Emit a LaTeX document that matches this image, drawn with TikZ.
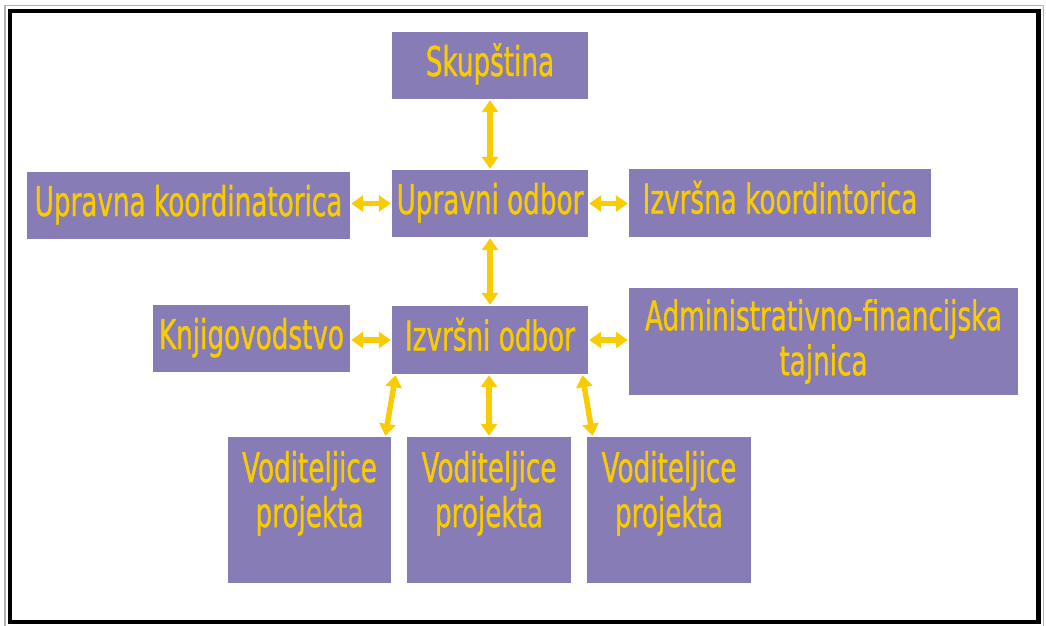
\documentclass[tikz,border=0pt]{standalone}
\usepackage{fontspec}
\usetikzlibrary{positioning}
\usetikzlibrary{arrows.meta}
\newfontfamily\orgfont[FakeStretch=0.64, FakeBold=0.8]{DejaVu Sans}
\definecolor{boxfill}{RGB}{135,124,181}
\definecolor{orgyellow}{RGB}{248,204,0}

\begin{document}
\begin{tikzpicture} [x=1pt, y=-1pt,
        box/.style = {fill=boxfill, text=orgyellow, inner sep=0pt, align=center,
            font=\orgfont\fontsize{41pt}{45pt}\selectfont},
        one/.style = {text height=31pt, text depth=10pt},
        link/.style = {draw=orgyellow, line width=5.5pt,
            {Triangle[width=16pt,length=12pt]}-{Triangle[width=16pt,length=12pt]},
            shorten <=1pt, shorten >=1pt}]
        \useasboundingbox (0,0) rectangle (1046,625);

        %Rahmen
        \draw[gray!60, line width=1.5pt] (5,5.5) rectangle (1043.5,628);
        \draw[black, line width=4.5pt] (10,11) rectangle (1038.5,622);

        %Knoten
        \node[box, one, minimum width=196pt, minimum height=67pt] (skup) at (490,65.5) {Skupština};
        \node[box, one, minimum width=196pt, minimum height=67pt] (upr) at (490,203.5) {Upravni odbor};
        \node[box, one, minimum width=323pt, minimum height=67pt] (uprk) at (188.5,205.5) {Upravna koordinatorica};
        \node[box, one, minimum width=302pt, minimum height=68pt] (izk) at (780,203) {Izvršna koordintorica};

        \node[box, one, minimum width=196pt, minimum height=68pt] (izo) at (490,340) {Izvršni odbor};
        \node[box, one, minimum width=197pt, minimum height=67pt] (knj) at (251.5,338.5) {Knjigovodstvo};
        \node[box, minimum width=389pt, minimum height=107pt] (adm) at (823.5,341.5) {Administrativno-financijska\\tajnica};

        \node[box, minimum width=163pt, minimum height=146pt] (vod1) at (309.5,510) {Voditeljice\\projekta\rule[-42pt]{0pt}{42pt}};
        \node[box, minimum width=164pt, minimum height=146pt] (vod2) at (489,510) {Voditeljice\\projekta\rule[-42pt]{0pt}{42pt}};
        \node[box, minimum width=164pt, minimum height=146pt] (vod3) at (669,510) {Voditeljice\\projekta\rule[-42pt]{0pt}{42pt}};

        %Kanten
        \draw[link] (skup) -- (upr);
        \draw[link] (upr) -- (izo);
        \draw[link] (upr.west) -- (upr.west -| uprk.east);
        \draw[link] (upr.east) -- (upr.east -| izk.west);

        \draw[link] (izo.west) -- (izo.west -| knj.east);
        \draw[link] (izo.east) -- (izo.east -| adm.west);

        \draw[link] ([xshift=4pt]izo.south west) -- ([xshift=-6pt]vod1.north east);
        \draw[link] (izo.south -| vod2.north) -- (vod2.north);
        \draw[link] ([xshift=-6pt]izo.south east) -- ([xshift=6pt]vod3.north west);

    \end{tikzpicture}
\end{document}
